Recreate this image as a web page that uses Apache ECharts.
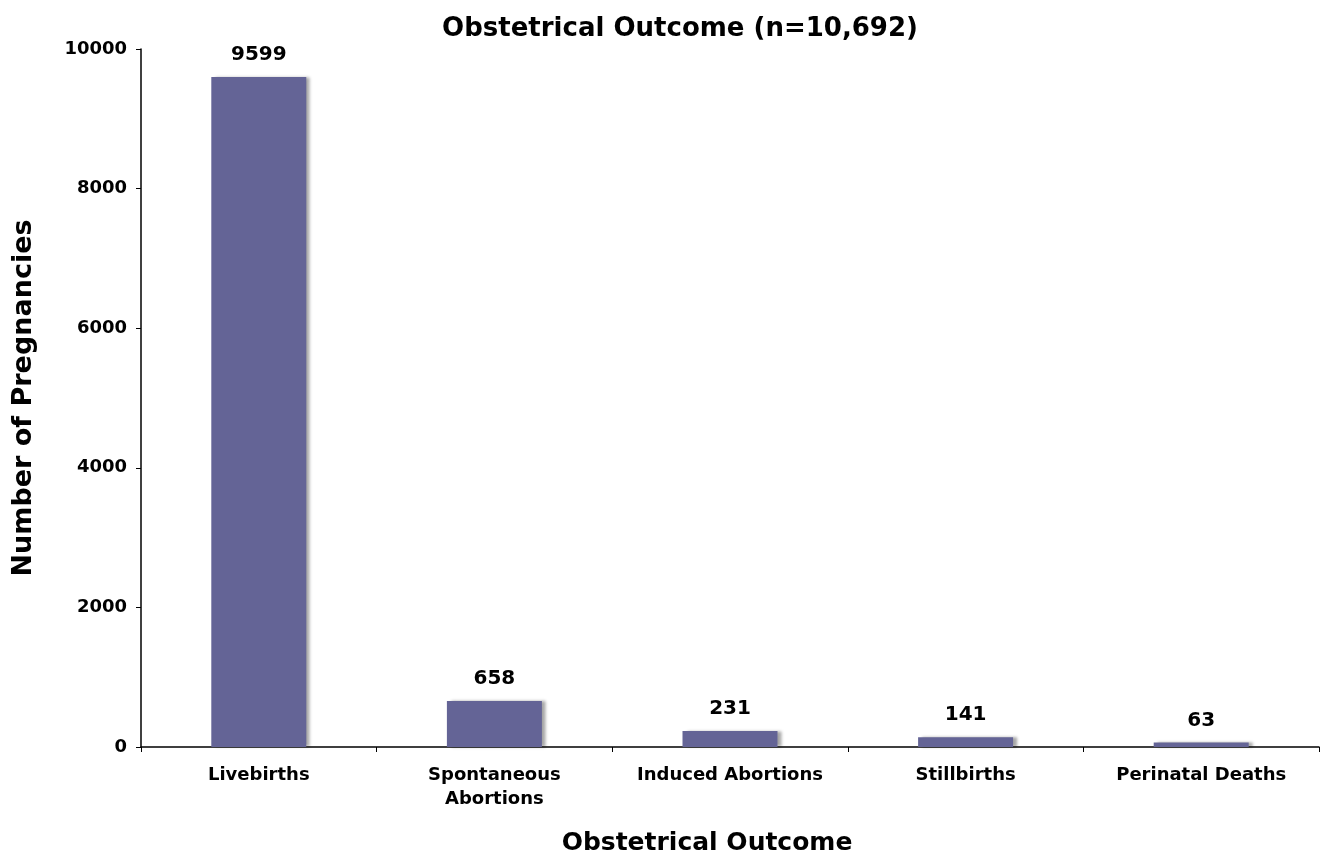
<!DOCTYPE html>
<html>
<head>
<meta charset="utf-8">
<script src="https://cdn.jsdelivr.net/npm/echarts@6/dist/echarts.min.js"></script>
<style>html,body{margin:0;padding:0;background:#fff}#c{width:1323px;height:861px}</style>
</head>
<body>
<div id="c"></div>
<script>
const categories = ['Livebirths', 'Spontaneous\nAbortions', 'Induced Abortions', 'Stillbirths', 'Perinatal Deaths'];
const values = [9599, 658, 231, 141, 63];
const yTicks = [0, 2000, 4000, 6000, 8000, 10000];

const FONT = '"DejaVu Sans", Verdana, sans-serif';
const chart = echarts.init(document.getElementById('c'));
chart.setOption({
  animation: false,
  backgroundColor: '#fff',
  title: {
    text: 'Obstetrical Outcome (n=10,692)',
    left: 675, top: 11, textAlign: 'center',
    textStyle: { fontFamily: FONT, fontWeight: 'bold', fontSize: 26, color: '#000' }
  },
  grid: { left: 141, right: 4, top: 49, bottom: 113, containLabel: false },
  xAxis: {
    type: 'category',
    data: categories,
    name: 'Obstetrical Outcome',
    nameLocation: 'middle',
    nameGap: 84,
    nameTextStyle: { fontFamily: FONT, fontWeight: 'bold', fontSize: 25, color: '#000', padding: [0, 46, 0, 0] },
    axisLine: { lineStyle: { color: '#000', width: 1.5 } },
    axisTick: { show: true, length: 5, inside: false, alignWithLabel: false, lineStyle: { color: '#000' } },
    axisLabel: { interval: 0, margin: 16, fontFamily: FONT, fontWeight: 'bold', fontSize: 18, color: '#000', lineHeight: 24 }
  },
  yAxis: {
    type: 'value',
    min: yTicks[0], max: yTicks[yTicks.length - 1], interval: 2000,
    name: 'Number of Pregnancies',
    nameLocation: 'middle',
    nameGap: 104,
    nameRotate: 90,
    nameTextStyle: { fontFamily: FONT, fontWeight: 'bold', fontSize: 27, color: '#000' },
    splitLine: { show: false },
    axisLine: { show: true, lineStyle: { color: '#000', width: 1.5 } },
    axisTick: { show: true, length: 5, lineStyle: { color: '#000' } },
    axisLabel: {
      margin: 14, fontFamily: FONT, fontWeight: 'bold', fontSize: 18, color: '#000',
      formatter: v => String(v)
    }
  },
  series: [{
    type: 'bar',
    data: values,
    barWidth: 95,
    itemStyle: {
      color: '#646496',
      shadowColor: 'rgba(0,0,0,0.35)', shadowBlur: 3, shadowOffsetX: 4, shadowOffsetY: 0
    },
    label: {
      show: true, position: 'top', distance: 12,
      fontFamily: FONT, fontWeight: 'bold', fontSize: 20, color: '#000'
    }
  }]
});
</script>
</body>
</html>
